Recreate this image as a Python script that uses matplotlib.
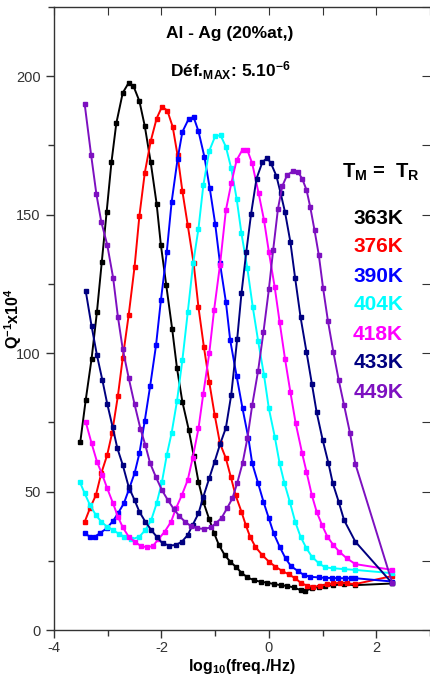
import numpy as np
import matplotlib
matplotlib.use("Agg")
import matplotlib.pyplot as plt
from matplotlib.ticker import MultipleLocator

plt.rcParams['font.family'] = ['Liberation Sans', 'DejaVu Sans']
plt.rcParams['mathtext.fontset'] = 'custom'
plt.rcParams['mathtext.rm'] = 'Liberation Sans:bold'
plt.rcParams['mathtext.bf'] = 'Liberation Sans:bold'
plt.rcParams['mathtext.default'] = 'bf'
plt.rcParams['axes.unicode_minus'] = False

temps = ['363K', '376K', '390K', '404K', '418K', '433K', '449K']
colors = ['#000000', '#ff0000', '#0000ff', '#00ffff', '#ff00ff', '#000080', '#7d10c0']

# 363K
bk_x = [-3.51, -3.41, -3.30, -3.20, -3.11, -3.02, -2.93, -2.84, -2.72, -2.61,
        -2.52, -2.41, -2.31, -2.20, -2.09, -2.01, -1.91, -1.80, -1.71, -1.61,
        -1.49, -1.40, -1.31, -1.22, -1.11, -1.02, -0.93, -0.82, -0.72, -0.62,
        -0.51, -0.40, -0.28, -0.15, -0.03, 0.09, 0.22, 0.34, 0.46, 0.59,
        0.68, 0.80, 0.93, 1.05, 1.20, 1.39, 1.61, 2.30]
bk_y = [68, 83, 98, 115, 133, 151, 169, 183, 194, 197.6,
        196.4, 191, 182, 169, 154, 139, 124.5, 108.7, 94.5, 82.4,
        72.2, 63, 53.5, 46.3, 40, 35, 30.7, 27, 24.7, 22.9,
        20.7, 19, 18, 17.4, 17.1, 16.6, 16.2, 15.9, 15.4, 14.4,
        14.2, 15, 15.6, 15.9, 16.2, 16.5, 16.2, 16.8]

# 376K
rd_x = [-3.43, -3.33, -3.22, -3.12, -3.01, -2.92, -2.81, -2.72, -2.61, -2.50,
        -2.41, -2.31, -2.20, -2.09, -1.99, -1.89, -1.79, -1.70, -1.61, -1.51,
        -1.40, -1.31, -1.21, -1.11, -1.01, -0.91, -0.80, -0.71, -0.62, -0.51,
        -0.43, -0.35, -0.25, -0.12, 0.00, 0.12, 0.25, 0.37, 0.49, 0.59,
        0.71, 0.83, 0.96, 1.08, 1.20, 1.33, 1.45, 1.61, 2.30]
rd_y = [39, 44, 48.7, 56.6, 63.2, 71, 84.6, 98.3, 113.7, 131.2,
        149.6, 165.1, 176.5, 184.7, 189, 187.6, 181.7, 171.5, 158.5, 146.2,
        132.4, 116.5, 102.3, 89.6, 77.8, 67.4, 62, 55.4, 48.7, 42.7,
        37.9, 33.7, 30, 27, 24.7, 22.9, 21.3, 20.1, 18.7, 17.1,
        16, 15.6, 15.9, 16.5, 16.8, 17.1, 16.8, 16.6, 19.5]

# 390K
bl_x = [-3.43, -3.33, -3.24, -3.15, -3.02, -2.90, -2.81, -2.70, -2.61, -2.50,
        -2.41, -2.31, -2.21, -2.10, -2.01, -1.90, -1.81, -1.70, -1.61, -1.49,
        -1.40, -1.31, -1.20, -1.10, -1.00, -0.91, -0.80, -0.72, -0.60, -0.49,
        -0.38, -0.31, -0.20, -0.10, 0.00, 0.09, 0.20, 0.31, 0.41, 0.54,
        0.65, 0.77, 0.93, 1.05, 1.17, 1.29, 1.41, 1.53, 1.61, 2.30]
bl_y = [34.9, 33.7, 33.7, 34.9, 36.7, 39.4, 42.1, 45.7, 50.5, 56.6,
        63.8, 75.6, 88.1, 102.9, 119.1, 136.6, 154.6, 170, 179.9, 184.7,
        185.2, 180.1, 170.9, 159.5, 146.8, 132.4, 118.5, 104.7, 91.7, 80,
        69.2, 60.2, 53, 46.3, 40.3, 34.9, 30.1, 25.9, 23.1, 21.3,
        19.9, 19.2, 19, 18.8, 18.8, 18.7, 18.7, 18.7, 18.7, 17.5]

# 404K
cy_x = [-3.52, -3.43, -3.33, -3.22, -3.12, -3.01, -2.90, -2.79, -2.69, -2.56,
        -2.41, -2.30, -2.19, -2.09, -1.99, -1.90, -1.81, -1.71, -1.61, -1.51,
        -1.41, -1.31, -1.22, -1.11, -1.00, -0.90, -0.80, -0.70, -0.60, -0.51,
        -0.40, -0.30, -0.20, -0.09, 0.00, 0.11, 0.20, 0.29, 0.39, 0.49,
        0.59, 0.70, 0.80, 0.93, 1.05, 1.20, 1.39, 1.61, 2.30]
cy_y = [53.5, 49.4, 45.1, 41.5, 39.1, 37.3, 36.1, 34.7, 33.7, 32.7,
        33.7, 36.1, 39.7, 45.7, 53.5, 63.2, 71.2, 82.7, 97.5, 114.7,
        132.4, 145, 160.6, 173, 178.3, 178.7, 174.5, 166.7, 155.8, 143.2,
        130.6, 116.7, 104.4, 92, 80, 69.8, 60.2, 53, 46.3, 39.1,
        33.7, 29.5, 26.5, 24.1, 22.6, 22.3, 22, 21.7, 20.5]

# 418K
mg_x = [-3.41, -3.30, -3.20, -3.10, -3.01, -2.90, -2.81, -2.72, -2.61, -2.50,
        -2.38, -2.27, -2.16, -2.06, -1.94, -1.82, -1.73, -1.62, -1.51, -1.42,
        -1.31, -1.22, -1.11, -1.02, -0.91, -0.80, -0.70, -0.60, -0.49, -0.40,
        -0.31, -0.19, -0.09, 0.00, 0.11, 0.20, 0.30, 0.40, 0.50, 0.62,
        0.70, 0.80, 0.89, 0.99, 1.09, 1.20, 1.31, 1.45, 1.61, 2.30]
mg_y = [75.2, 67.4, 60.8, 56, 51.2, 45.7, 40.9, 37.1, 33.7, 31.9,
        30.3, 29.9, 30.3, 32.7, 35.5, 39.1, 43.9, 48.7, 54.2, 62,
        72.8, 85.4, 99.9, 115.5, 131.8, 151.6, 161.3, 169.7, 173.5, 173.3,
        168.5, 157.7, 148, 136.6, 123.7, 111.3, 98, 86, 74.6, 63.8,
        57.2, 48.7, 42.7, 37.9, 33.7, 30.7, 28.3, 25.9, 23.8, 21.7]

# 433K
nv_x = [-3.41, -3.30, -3.20, -3.10, -3.01, -2.91, -2.82, -2.72, -2.61, -2.50,
        -2.41, -2.30, -2.19, -2.08, -1.98, -1.85, -1.73, -1.62, -1.51, -1.42,
        -1.31, -1.22, -1.11, -1.01, -0.91, -0.80, -0.70, -0.59, -0.51, -0.42,
        -0.33, -0.23, -0.12, -0.03, 0.04, 0.14, 0.22, 0.30, 0.40, 0.49,
        0.59, 0.70, 0.80, 0.89, 1.00, 1.11, 1.19, 1.30, 1.40, 1.61, 2.30]
nv_y = [122.5, 109.7, 99.2, 90.3, 81.8, 73.4, 65.6, 59.6, 51.7, 46.9,
        42.7, 39.1, 36.1, 33.5, 31.3, 30.5, 30.7, 31.9, 34.3, 37.9,
        42.1, 48.1, 54.8, 60.8, 67, 73, 85, 105, 121.6, 136.6,
        150.4, 163, 169, 170.5, 168.5, 164, 157.7, 151, 140.2, 127,
        113, 100.5, 89, 78.6, 68.8, 60.2, 53, 46.3, 39.7, 31.9, 16.8]

# 449K
pp_x = [-3.43, -3.31, -3.21, -3.12, -3.01, -2.90, -2.81, -2.72, -2.61, -2.50,
        -2.39, -2.30, -2.21, -2.10, -1.99, -1.88, -1.77, -1.67, -1.56, -1.45,
        -1.33, -1.20, -1.08, -0.99, -0.88, -0.78, -0.68, -0.59, -0.49, -0.40,
        -0.31, -0.20, -0.10, 0.00, 0.08, 0.17, 0.25, 0.34, 0.45, 0.54,
        0.62, 0.70, 0.77, 0.85, 0.93, 1.01, 1.10, 1.20, 1.30, 1.40,
        1.51, 1.61, 2.30]
pp_y = [190.1, 171.7, 157.3, 147.4, 139.2, 127.3, 113.1, 101.4, 91.1, 81.5,
        72.6, 66.8, 60.2, 55.1, 50.5, 46.9, 43.7, 41.2, 39.1, 37.5,
        36.7, 36.5, 37.1, 38.5, 40.5, 43.9, 47.5, 53, 60.2, 69.2,
        81.2, 93.6, 107.7, 123, 137.2, 152.2, 160.3, 164.3, 165.7, 165.5,
        163, 159, 152.8, 144.4, 135.4, 123.4, 111.6, 100.5, 90.3, 81.2,
        71.2, 60, 16.8]

series = [(bk_x, bk_y), (rd_x, rd_y), (bl_x, bl_y), (cy_x, cy_y),
          (mg_x, mg_y), (nv_x, nv_y), (pp_x, pp_y)]

fig = plt.figure(figsize=(4.30, 6.79), dpi=100)
ax = fig.add_axes([54 / 430, 49 / 679, 376 / 430, 623 / 679])

for (x, y), c in zip(series, colors):
    ax.plot(x, y, '-', color=c, lw=1.4, marker='s', ms=3.4, mec=c, mfc=c)

ax.set_xlim(-4, 3)
ax.set_ylim(0, 225)
ax.xaxis.set_major_locator(MultipleLocator(2))
ax.xaxis.set_minor_locator(MultipleLocator(1))
ax.yaxis.set_major_locator(MultipleLocator(50))
ax.yaxis.set_minor_locator(MultipleLocator(25))
ax.tick_params(which='both', direction='out', colors='#333333', labelsize=10.5,
               width=1.0, top=False, right=False)
ax.tick_params(which='major', length=6)
ax.tick_params(which='minor', length=4)
ax.tick_params(axis='x', pad=2)
ax.spines['right'].set_visible(False)
for s in ['left', 'bottom', 'top']:
    ax.spines[s].set_color('#333333')
    ax.spines[s].set_linewidth(1.0)

# inward ticks on top and right, like the original
sec = ax.secondary_xaxis('top')
sec.xaxis.set_major_locator(MultipleLocator(1))
sec.tick_params(direction='in', length=6, colors='#333333', labeltop=False)
sec.spines['top'].set_visible(False)
secy = ax.secondary_yaxis('right')
secy.yaxis.set_major_locator(MultipleLocator(25))
secy.tick_params(direction='in', length=6, colors='#333333', labelright=False)
secy.spines['right'].set_visible(False)

ax.set_xlabel(r'log$_{10}$(freq./Hz)', fontsize=11.5, fontweight='bold')
ax.xaxis.set_label_coords(0.5, -(657 - 630) / 623)
ax.set_ylabel(r'Q$^{-1}$x10$^{4}$', fontsize=11.5, fontweight='bold')
ax.yaxis.set_label_coords(-(54 - 24) / 376, 0.5)

ax.text(0.468, 0.958, 'Al - Ag (20%at,)', transform=ax.transAxes, ha='center',
        va='center', fontsize=12.5, fontweight='bold')
ax.text(0.468, 0.897, r'Déf.$_{MAX}$: 5.10$^{-6}$', transform=ax.transAxes,
        ha='center', va='center', fontsize=12.5, fontweight='bold')

ax.text((420 - 54) / 376, (630 - 172) / 623, r'T$_{M}$ =  T$_{R}$',
        transform=ax.transAxes, ha='right', va='center', fontsize=14.5,
        fontweight='bold')
for i, (t, c) in enumerate(zip(temps, colors)):
    ypix = 218 + 29 * i
    ax.text((403 - 54) / 376, (630 - ypix) / 623, t, transform=ax.transAxes,
            ha='right', va='center', fontsize=15, fontweight='bold', color=c)

fig.savefig('out.png', dpi=100)
